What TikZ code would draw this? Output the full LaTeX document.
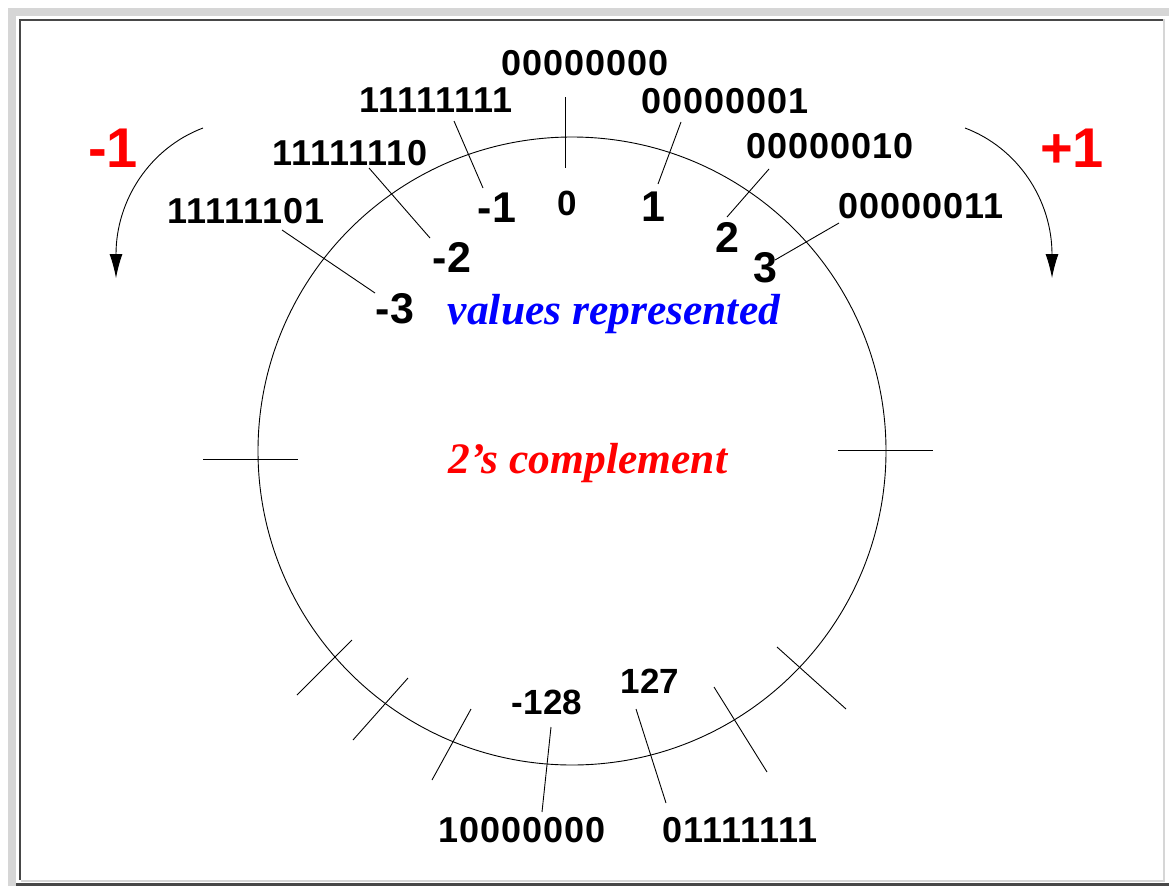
\documentclass[tikz,border=0pt]{standalone}
\usepackage{fontspec}
\setmainfont{Liberation Sans}
\newfontfamily\timesfont{Liberation Serif}
\usetikzlibrary{arrows.meta}
\definecolor{framelight}{HTML}{D6D6D6}
\definecolor{framedark}{HTML}{484848}
\tikzset{
  bin/.style={inner sep=0pt, font=\fontsize{36}{40}\selectfont\bfseries\addfontfeature{LetterSpace=3}},
  dec/.style={inner sep=0pt, font=\fontsize{43}{48}\selectfont\bfseries},
  small/.style={inner sep=0pt, font=\fontsize{35}{40}\selectfont\bfseries},
  redlab/.style={inner sep=0pt, text=red, font=\fontsize{56}{60}\selectfont\bfseries},
  caption/.style={inner sep=0pt, font=\fontsize{43.5}{48}\selectfont\timesfont\bfseries\itshape},
  thin line/.style={draw=black, line width=0.9pt},
  turn/.style={draw=black, line width=0.9pt, -{Latex[length=24pt,width=13pt]}}
}
\begin{document}
\begin{tikzpicture}[x=1pt,y=-1pt]
\useasboundingbox (0,0) rectangle (1169,886);
% frame
\fill[white] (0,0) rectangle (1169,886);
\fill[framelight] (8,8) rectangle (1169,16);
\fill[framelight] (8,8) rectangle (16,886);
\fill[framedark] (16,883) rectangle (1169,886);
\fill[framedark] (19,19) rectangle (1163,21);
\fill[framedark] (19,19) rectangle (21,880);
\fill[framelight] (1163,19) rectangle (1165,882);
\fill[framelight] (21,880) rectangle (1165,882);

% circle
\coordinate (c) at (572,451);
\draw[thin line] (c) circle[radius=314pt];

% ticks
\coordinate (tla) at (203,459); \coordinate (tlb) at (298,459);
\coordinate (tra) at (838,450); \coordinate (trb) at (933,450);
\coordinate (t1a) at (297,695); \coordinate (t1b) at (352,640);
\coordinate (t2a) at (353,740); \coordinate (t2b) at (408,678);
\coordinate (t3a) at (432,780); \coordinate (t3b) at (471,709);
\coordinate (t4a) at (714,687); \coordinate (t4b) at (767,772);
\coordinate (t5a) at (777,647); \coordinate (t5b) at (846,709);
\foreach \t in {tl,tr,t1,t2,t3,t4,t5} \draw[thin line] (\t a) -- (\t b);

% binary labels
\node[bin] (b0) at (585,63) {00000000};
\node[bin] (bm1) at (436,100) {11111111};
\node[bin] (b1) at (725,101) {00000001};
\node[bin] (b2) at (830,146) {00000010};
\node[bin] (b3) at (921,206) {00000011};
\node[bin] (bm2) at (350,153) {11111110};
\node[bin] (bm3) at (246,211) {11111101};
\node[bin] (bm128) at (522,830) {10000000};
\node[bin] (b127) at (740,830) {01111111};

% decimal labels
\node[small] (d0) at (567,203) {0};
\node[dec] (d1) at (653,207) {1};
\node[dec] (d2) at (727,237) {2};
\node[dec] (d3) at (765,268) {3};
\node[dec] (dm1) at (497,208) {-1};
\node[dec] (dm2) at (452,257) {-2};
\node[dec] (dm3) at (395,309) {-3};
\node[small] (dm128) at (547,702) {-128};
\node[small] (d127) at (650,681) {127};

% leader lines
\coordinate (l0a) at (565,97);   \coordinate (l0b) at (565,168);
\coordinate (l1a) at (681,122);  \coordinate (l1b) at (658,184);
\coordinate (l2a) at (769,169);  \coordinate (l2b) at (727,217);
\coordinate (l3a) at (839,223);  \coordinate (l3b) at (775,260);
\coordinate (lm1a) at (454,121); \coordinate (lm1b) at (483,188);
\coordinate (lm2a) at (369,168); \coordinate (lm2b) at (430,238);
\coordinate (lm3a) at (282,230); \coordinate (lm3b) at (375,293);
\coordinate (lm128a) at (551,727); \coordinate (lm128b) at (542,812);
\coordinate (l127a) at (636,709);  \coordinate (l127b) at (666,803);
\foreach \l in {l0,l1,l2,l3,lm1,lm2,lm3,lm128,l127} \draw[thin line] (\l a) -- (\l b);

% captions
\node[caption, text=blue, anchor=base] (vr) at (614,324) {values represented};
\node[caption, text=red, anchor=base] (tc) at (588,473) {2’s complement};

% +1 / -1 arrows
\node[redlab] (minus) at (113,148) {-1};
\node[redlab] (plus) at (1072,148) {+1};
\coordinate (la) at (203,128); \coordinate (lb) at (116,278);
\coordinate (ra) at (965,128); \coordinate (rb) at (1052,278);
\draw[turn] (la) .. controls (150,148) and (116,200) .. (lb);
\draw[turn] (ra) .. controls (1018,148) and (1052,200) .. (rb);
\end{tikzpicture}
\end{document}
